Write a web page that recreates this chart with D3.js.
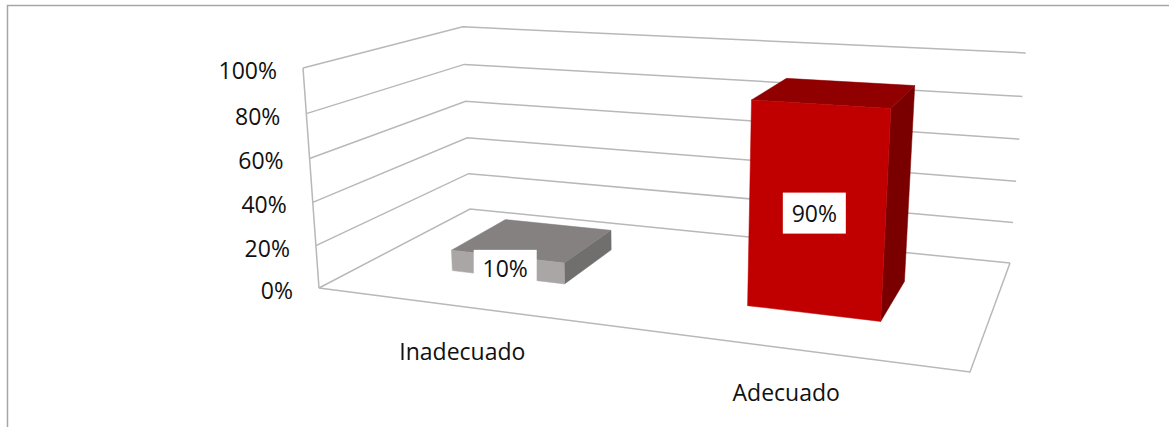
<!DOCTYPE html>
<html><head><meta charset="utf-8">
<script src="https://cdn.jsdelivr.net/npm/d3@7"></script>
<style>html,body{margin:0;padding:0;background:#fff}svg{display:block}text{font-family:"Open Sans",Lato,sans-serif;fill:#111}</style>
</head><body><svg id="c" width="1169" height="427"></svg>
<script>
const categories = ["Inadecuado", "Adecuado"];
const values = [10, 90];
const dataLabels = ["10%", "90%"];
const tickValues = [0, 20, 40, 60, 80, 100];
const tickLabels = ["0%", "20%", "40%", "60%", "80%", "100%"];

const W = 1169, H = 427;
const floorQuad = [[319,288],[970,372],[1010,263],[470,209]];
const wallTopLeft = [303,68];
const perspectiveV = -0.045;
const fontSize = 23;

function camera(q,top,n){
  const [p0,p1,p2,p3]=q;
  const dx1=p1[0]-p2[0],dx2=p3[0]-p2[0],sx=p0[0]-p1[0]+p2[0]-p3[0];
  const dy1=p1[1]-p2[1],dy2=p3[1]-p2[1],sy=p0[1]-p1[1]+p2[1]-p3[1];
  const den=dx1*dy2-dx2*dy1;
  const g=(sx*dy2-dx2*sy)/den,h=(dx1*sy-sx*dy1)/den;
  const a=p1[0]-p0[0]+g*p1[0],b=p3[0]-p0[0]+h*p3[0],c=p0[0];
  const d=p1[1]-p0[1]+g*p1[1],e=p3[1]-p0[1]+h*p3[1],f=p0[1];
  const m=top[0]*(1+n)-c,o=top[1]*(1+n)-f;
  return (u,t,k)=>{const w=g*u+h*t+n*k+1;return [(a*u+b*t+m*k+c)/w,(d*u+e*t+o*k+f)/w];};
}
const cam=camera(floorQuad,wallTopLeft,perspectiveV);
const v=d3.scaleLinear().domain([0,100]).range([0,1]);
const u=d3.scaleBand().domain(categories).range([0.004,1.004]).paddingInner(0.6).paddingOuter(0.3);
const depth=[0.3,0.69];
const P=(a,t,val)=>cam(a,t,v(val));
const line=d3.line();
const svg=d3.select("#c");
svg.append("rect").attr("width",W).attr("height",H).attr("fill","#fff");
svg.append("path").attr("d",line([[7.5,H],[7.5,5.5],[W,5.5]])).attr("fill","none").attr("stroke","#a6a6a6").attr("stroke-width",1.5);

const gridC="#b8b8b8", gridW=1.5;
svg.append("g").selectAll("path").data(tickValues).join("path")
  .attr("d",t=>line([P(0,0,t),P(0,1,t),P(1,1,t)]))
  .attr("fill","none").attr("stroke",gridC).attr("stroke-width",gridW);
svg.append("path").attr("d",line([P(0,0,0),P(0,0,100)])).attr("fill","none").attr("stroke",gridC).attr("stroke-width",gridW);
svg.append("path").attr("d",line([P(0,0,0),P(1,0,0),P(1,1,0)])).attr("fill","none").attr("stroke",gridC).attr("stroke-width",gridW);

const colors=[{front:"#aaa6a5",top:"#858181",side:"#716e6e"},{front:"#c00000",top:"#900000",side:"#7a0000"}];
categories.forEach((c,i)=>{
  const a0=u(c),a1=a0+u.bandwidth(),[t0,t1]=depth,val=values[i],g=svg.append("g");
  const face=(pts,col)=>g.append("path").attr("d",line(pts)+"Z").attr("fill",col).attr("stroke",col).attr("stroke-width",0.5);
  face([P(a1,t0,0),P(a1,t1,0),P(a1,t1,val),P(a1,t0,val)],colors[i].side);
  face([P(a0,t0,val),P(a1,t0,val),P(a1,t1,val),P(a0,t1,val)],colors[i].top);
  face([P(a0,t0,0),P(a1,t0,0),P(a1,t0,val),P(a0,t0,val)],colors[i].front);
  const m=P(a0+u.bandwidth()/2,t0,val/2);
  const bw=63,bh=i?41:36;
  g.append("rect").attr("x",m[0]-bw/2-2).attr("y",m[1]-bh/2+1+i).attr("width",bw).attr("height",bh).attr("fill","#fff");
  g.append("text").attr("x",m[0]-2).attr("y",m[1]+1+i).attr("text-anchor","middle").attr("dominant-baseline","central").attr("font-size",fontSize).text(dataLabels[i]);
  const b=P(a0+u.bandwidth()/2,0,0);
  svg.append("text").attr("x",b[0]-0.5).attr("y",b[1]+44).attr("text-anchor","middle").attr("dominant-baseline","central").attr("font-size",fontSize).text(c);
});
svg.append("g").selectAll("text").data(tickValues).join("text")
  .attr("x",t=>P(0,0,t)[0]-26).attr("y",t=>P(0,0,t)[1]+2)
  .attr("text-anchor","end").attr("dominant-baseline","central").attr("font-size",fontSize)
  .text((t,i)=>tickLabels[i]);
</script></body></html>
